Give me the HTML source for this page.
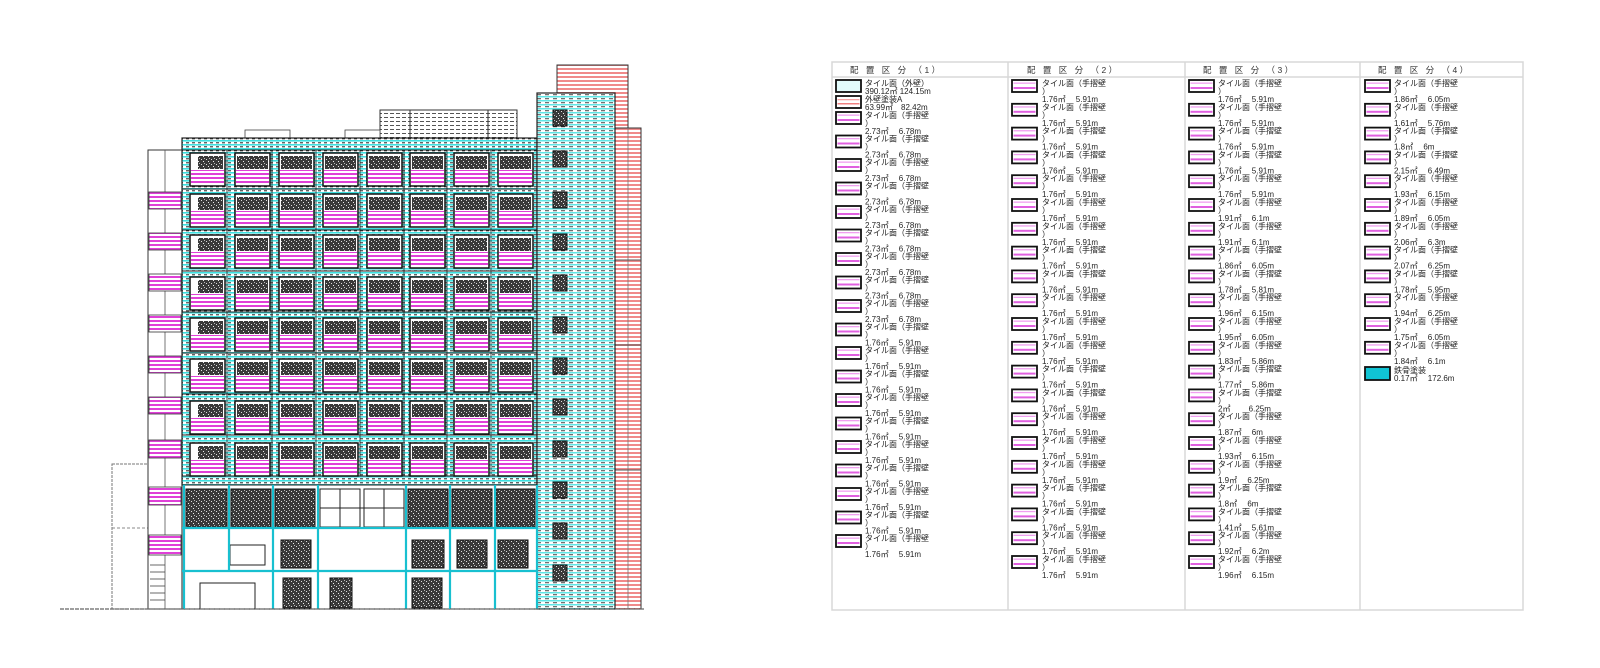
<!DOCTYPE html>
<html><head><meta charset="utf-8">
<style>
html,body{margin:0;padding:0;background:#fff;}
svg{display:block;}
text{font-family:"Liberation Sans","Noto Sans CJK JP",sans-serif;font-size:8px;fill:#222;}
.h{font-size:8.5px;letter-spacing:2.5px;fill:#333;}
</style></head>
<body>
<svg width="1600" height="668" viewBox="0 0 1600 668" xmlns="http://www.w3.org/2000/svg" xmlns:xlink="http://www.w3.org/1999/xlink">
<defs>
<pattern id="cy" width="6" height="4" patternUnits="userSpaceOnUse">
<rect width="6" height="4" fill="#fff"/><rect width="6" height="1.6" fill="#3ee0e0"/><rect y="2.3" width="3" height="1" fill="#222"/>
</pattern>
<pattern id="cy2" width="8" height="4" patternUnits="userSpaceOnUse">
<rect width="8" height="4" fill="#fff"/><rect width="8" height="1.5" fill="#5fe6e6"/><rect x="1" y="2.3" width="4" height="0.9" fill="#333"/>
</pattern>
<pattern id="pk" width="4" height="4" patternUnits="userSpaceOnUse">
<rect width="4" height="4" fill="#fff"/><rect width="4" height="2" fill="#e040d8"/>
</pattern>
<pattern id="rd" width="4" height="4" patternUnits="userSpaceOnUse">
<rect width="4" height="4" fill="#fff"/><rect width="4" height="2" fill="#f08a8a"/>
</pattern>
<pattern id="dk" width="5" height="5" patternUnits="userSpaceOnUse">
<rect width="5" height="5" fill="#3a3a3a"/><rect x="1" y="1" width="1" height="1" fill="#ddd"/><rect x="3" y="3" width="1" height="1" fill="#eee"/><rect x="4" y="0" width="1" height="1" fill="#bbb"/>
</pattern>
<pattern id="gl" width="6" height="4" patternUnits="userSpaceOnUse">
<rect width="6" height="4" fill="#fff"/><rect y="1" width="4" height="1" fill="#555"/>
</pattern>
<g id="row">
<g stroke="#111" stroke-width="1.5" fill="#fff">
<rect x="190" y="0" width="35" height="33"/><rect x="235" y="0" width="35" height="33"/><rect x="279" y="0" width="35" height="33"/><rect x="323" y="0" width="35" height="33"/><rect x="367" y="0" width="35" height="33"/><rect x="410" y="0" width="35" height="33"/><rect x="454" y="0" width="35" height="33"/><rect x="498" y="0" width="35" height="33"/>
</g>
<g fill="url(#dk)">
<rect x="198" y="3" width="25" height="13"/><rect x="237" y="3" width="31" height="13"/><rect x="281" y="3" width="31" height="13"/><rect x="325" y="3" width="31" height="13"/><rect x="369" y="3" width="31" height="13"/><rect x="412" y="3" width="31" height="13"/><rect x="456" y="3" width="31" height="13"/><rect x="500" y="3" width="31" height="13"/>
</g>
<g fill="url(#pk)">
<rect x="191" y="17" width="33" height="15"/><rect x="236" y="17" width="33" height="15"/><rect x="280" y="17" width="33" height="15"/><rect x="324" y="17" width="33" height="15"/><rect x="368" y="17" width="33" height="15"/><rect x="411" y="17" width="33" height="15"/><rect x="455" y="17" width="33" height="15"/><rect x="499" y="17" width="33" height="15"/>
</g>
</g>
<g id="sw"><rect x="0" y="0" width="25" height="12" fill="#fff" stroke="#111" stroke-width="1.8"/><rect x="1.5" y="2.5" width="22" height="1.3" fill="#f0a0f0"/><rect x="1.5" y="7" width="22" height="2" fill="#e060e0"/></g>
</defs>

<!-- ===== Building ===== -->
<rect x="557" y="65" width="71" height="63" fill="url(#rd)" stroke="#333"/>
<rect x="615" y="128" width="26" height="481" fill="url(#rd)" stroke="#333"/>
<line x1="628" y1="128" x2="628" y2="609" stroke="#777" stroke-width="0.8"/>
<g stroke="#555"><line x1="615" y1="260" x2="641" y2="260"/><line x1="615" y1="345" x2="641" y2="345"/><line x1="615" y1="470" x2="641" y2="470"/></g>

<rect x="112" y="464" width="36" height="145" fill="none" stroke="#777" stroke-dasharray="3,1"/>
<line x1="112" y1="528" x2="148" y2="528" stroke="#888" stroke-dasharray="3,2"/>

<rect x="148" y="150" width="34" height="459" fill="#fff" stroke="#333"/>
<line x1="165" y1="150" x2="165" y2="609" stroke="#555" stroke-width="0.8"/>
<g fill="url(#pk)" stroke="#333" stroke-width="0.8">
<rect x="149" y="192" width="32" height="17"/><rect x="149" y="233" width="32" height="17"/><rect x="149" y="274" width="32" height="17"/><rect x="149" y="315" width="32" height="17"/><rect x="149" y="356" width="32" height="17"/><rect x="149" y="397" width="32" height="17"/><rect x="149" y="440" width="32" height="18"/><rect x="149" y="487" width="32" height="18"/><rect x="149" y="535" width="32" height="20"/>
</g>
<g stroke="#444" stroke-width="0.8"><line x1="150" y1="565" x2="165" y2="565"/><line x1="150" y1="572" x2="165" y2="572"/><line x1="150" y1="579" x2="165" y2="579"/><line x1="150" y1="586" x2="165" y2="586"/><line x1="150" y1="593" x2="165" y2="593"/><line x1="150" y1="600" x2="165" y2="600"/></g>

<rect x="380" y="110" width="137" height="28" fill="url(#gl)" stroke="#333"/>
<line x1="410" y1="110" x2="410" y2="138" stroke="#333"/><line x1="488" y1="110" x2="488" y2="138" stroke="#333"/>
<rect x="245" y="130" width="45" height="8" fill="#fff" stroke="#444" stroke-width="0.8"/>
<rect x="345" y="130" width="35" height="8" fill="#fff" stroke="#444" stroke-width="0.8"/>

<rect x="182" y="138" width="355" height="347" fill="url(#cy)" stroke="#222" stroke-width="1.2"/>
<rect x="537" y="93" width="78" height="516" fill="url(#cy2)" stroke="#222" stroke-width="1.2"/>

<g stroke="#222">
<line x1="182" y1="150" x2="537" y2="150"/><line x1="182" y1="189" x2="537" y2="189"/><line x1="182" y1="230" x2="537" y2="230"/><line x1="182" y1="271" x2="537" y2="271"/><line x1="182" y1="312" x2="537" y2="312"/><line x1="182" y1="353" x2="537" y2="353"/><line x1="182" y1="394" x2="537" y2="394"/><line x1="182" y1="435" x2="537" y2="435"/><line x1="182" y1="476" x2="537" y2="476"/>
</g>
<g stroke="#222" stroke-width="0.8">
<line x1="227" y1="150" x2="227" y2="476"/><line x1="272" y1="150" x2="272" y2="476"/><line x1="316" y1="150" x2="316" y2="476"/><line x1="360" y1="150" x2="360" y2="476"/><line x1="404" y1="150" x2="404" y2="476"/><line x1="447" y1="150" x2="447" y2="476"/><line x1="491" y1="150" x2="491" y2="476"/>
</g>

<use href="#row" xlink:href="#row" x="0" y="153"/><use href="#row" xlink:href="#row" x="0" y="194"/><use href="#row" xlink:href="#row" x="0" y="235"/><use href="#row" xlink:href="#row" x="0" y="277"/><use href="#row" xlink:href="#row" x="0" y="318"/><use href="#row" xlink:href="#row" x="0" y="359"/><use href="#row" xlink:href="#row" x="0" y="401"/><use href="#row" xlink:href="#row" x="0" y="443"/>

<g fill="url(#dk)" stroke="#111" stroke-width="1">
<rect x="553" y="110" width="14" height="16"/><rect x="553" y="151" width="14" height="16"/><rect x="553" y="192" width="14" height="16"/><rect x="553" y="234" width="14" height="16"/><rect x="553" y="275" width="14" height="16"/><rect x="553" y="317" width="14" height="16"/><rect x="553" y="358" width="14" height="16"/><rect x="553" y="399" width="14" height="16"/><rect x="553" y="441" width="14" height="16"/><rect x="553" y="482" width="14" height="16"/><rect x="553" y="523" width="14" height="16"/><rect x="553" y="565" width="14" height="16"/>
</g>

<!-- ground floor -->
<rect x="182" y="485" width="355" height="124" fill="#fff" stroke="#222"/>
<g fill="url(#dk)" stroke="#111">
<rect x="186" y="489" width="41" height="38"/><rect x="231" y="489" width="40" height="38"/><rect x="275" y="489" width="40" height="38"/><rect x="408" y="489" width="40" height="38"/><rect x="452" y="489" width="40" height="38"/><rect x="496" y="489" width="39" height="38"/>
<rect x="281" y="540" width="30" height="28"/><rect x="412" y="540" width="32" height="28"/><rect x="457" y="540" width="30" height="28"/><rect x="498" y="540" width="30" height="28"/>
<rect x="283" y="578" width="28" height="30"/><rect x="330" y="578" width="22" height="30"/><rect x="412" y="578" width="30" height="30"/>
</g>
<g stroke="#222" stroke-width="1" fill="none">
<rect x="320" y="489" width="40" height="38"/><rect x="364" y="489" width="40" height="38"/>
<line x1="340" y1="489" x2="340" y2="527"/><line x1="384" y1="489" x2="384" y2="527"/>
<line x1="320" y1="508" x2="404" y2="508"/>
<rect x="200" y="583" width="55" height="26"/>
<rect x="230" y="545" width="35" height="20"/>
</g>
<g stroke="#18c0d0" stroke-width="2.2">
<line x1="182" y1="528" x2="537" y2="528"/><line x1="182" y1="571" x2="537" y2="571"/>
<line x1="184" y1="485" x2="184" y2="609"/><line x1="229" y1="485" x2="229" y2="571"/><line x1="273" y1="485" x2="273" y2="609"/><line x1="318" y1="485" x2="318" y2="609"/><line x1="406" y1="485" x2="406" y2="609"/><line x1="450" y1="485" x2="450" y2="609"/><line x1="495" y1="485" x2="495" y2="609"/><line x1="537" y1="485" x2="537" y2="609"/>
</g>
<line x1="60" y1="609" x2="645" y2="609" stroke="#666" stroke-width="1.2" stroke-dasharray="4,1"/>

<!-- ===== Legend ===== -->
<rect x="832" y="62" width="691" height="548" fill="none" stroke="#d8d8d8" stroke-width="1.5"/>
<line x1="832" y1="77" x2="1523" y2="77" stroke="#d8d8d8" stroke-width="1.5"/>
<line x1="1008" y1="62" x2="1008" y2="610" stroke="#d8d8d8" stroke-width="1.5"/>
<line x1="1185" y1="62" x2="1185" y2="610" stroke="#d8d8d8" stroke-width="1.5"/>
<line x1="1360" y1="62" x2="1360" y2="610" stroke="#d8d8d8" stroke-width="1.5"/>
<text class="h" x="850" y="73">配 置 区 分 （1）</text>
<text class="h" x="1027" y="73">配 置 区 分 （2）</text>
<text class="h" x="1203" y="73">配 置 区 分 （3）</text>
<text class="h" x="1378" y="73">配 置 区 分 （4）</text>

<rect x="836" y="80" width="25" height="12" fill="#e2fbfb" stroke="#111" stroke-width="1.8"/>
<text x="865" y="86">タイル面（外壁）</text><text x="865" y="94">390.12㎡ 124.15m</text>
<g><rect x="836" y="96" width="25" height="12" fill="#fff" stroke="#111" stroke-width="1.8"/><rect x="837.5" y="99" width="22" height="1.3" fill="#f4a0a0"/><rect x="837.5" y="103" width="22" height="1.5" fill="#f08080"/></g>
<text x="865" y="102">外壁塗装A</text><text x="865" y="110">63.99㎡　82.42m</text>

<g>
<use href="#sw" xlink:href="#sw" x="836" y="112"/><text x="865" y="118">タイル面（手摺壁</text><text x="865" y="126">）</text><text x="865" y="134">2.73㎡　 6.78m</text>
<use href="#sw" xlink:href="#sw" x="836" y="135.5"/><text x="865" y="141.5">タイル面（手摺壁</text><text x="865" y="149.5">）</text><text x="865" y="157.5">2.73㎡　 6.78m</text>
<use href="#sw" xlink:href="#sw" x="836" y="159"/><text x="865" y="165">タイル面（手摺壁</text><text x="865" y="173">）</text><text x="865" y="181">2.73㎡　 6.78m</text>
<use href="#sw" xlink:href="#sw" x="836" y="182.5"/><text x="865" y="188.5">タイル面（手摺壁</text><text x="865" y="196.5">）</text><text x="865" y="204.5">2.73㎡　 6.78m</text>
<use href="#sw" xlink:href="#sw" x="836" y="206"/><text x="865" y="212">タイル面（手摺壁</text><text x="865" y="220">）</text><text x="865" y="228">2.73㎡　 6.78m</text>
<use href="#sw" xlink:href="#sw" x="836" y="229.5"/><text x="865" y="235.5">タイル面（手摺壁</text><text x="865" y="243.5">）</text><text x="865" y="251.5">2.73㎡　 6.78m</text>
<use href="#sw" xlink:href="#sw" x="836" y="253"/><text x="865" y="259">タイル面（手摺壁</text><text x="865" y="267">）</text><text x="865" y="275">2.73㎡　 6.78m</text>
<use href="#sw" xlink:href="#sw" x="836" y="276.5"/><text x="865" y="282.5">タイル面（手摺壁</text><text x="865" y="290.5">）</text><text x="865" y="298.5">2.73㎡　 6.78m</text>
<use href="#sw" xlink:href="#sw" x="836" y="300"/><text x="865" y="306">タイル面（手摺壁</text><text x="865" y="314">）</text><text x="865" y="322">2.73㎡　 6.78m</text>
<use href="#sw" xlink:href="#sw" x="836" y="323.5"/><text x="865" y="329.5">タイル面（手摺壁</text><text x="865" y="337.5">）</text><text x="865" y="345.5">1.76㎡　 5.91m</text>
<use href="#sw" xlink:href="#sw" x="836" y="347"/><text x="865" y="353">タイル面（手摺壁</text><text x="865" y="361">）</text><text x="865" y="369">1.76㎡　 5.91m</text>
<use href="#sw" xlink:href="#sw" x="836" y="370.5"/><text x="865" y="376.5">タイル面（手摺壁</text><text x="865" y="384.5">）</text><text x="865" y="392.5">1.76㎡　 5.91m</text>
<use href="#sw" xlink:href="#sw" x="836" y="394"/><text x="865" y="400">タイル面（手摺壁</text><text x="865" y="408">）</text><text x="865" y="416">1.76㎡　 5.91m</text>
<use href="#sw" xlink:href="#sw" x="836" y="417.5"/><text x="865" y="423.5">タイル面（手摺壁</text><text x="865" y="431.5">）</text><text x="865" y="439.5">1.76㎡　 5.91m</text>
<use href="#sw" xlink:href="#sw" x="836" y="441"/><text x="865" y="447">タイル面（手摺壁</text><text x="865" y="455">）</text><text x="865" y="463">1.76㎡　 5.91m</text>
<use href="#sw" xlink:href="#sw" x="836" y="464.5"/><text x="865" y="470.5">タイル面（手摺壁</text><text x="865" y="478.5">）</text><text x="865" y="486.5">1.76㎡　 5.91m</text>
<use href="#sw" xlink:href="#sw" x="836" y="488"/><text x="865" y="494">タイル面（手摺壁</text><text x="865" y="502">）</text><text x="865" y="510">1.76㎡　 5.91m</text>
<use href="#sw" xlink:href="#sw" x="836" y="511.5"/><text x="865" y="517.5">タイル面（手摺壁</text><text x="865" y="525.5">）</text><text x="865" y="533.5">1.76㎡　 5.91m</text>
<use href="#sw" xlink:href="#sw" x="836" y="535"/><text x="865" y="541">タイル面（手摺壁</text><text x="865" y="549">）</text><text x="865" y="557">1.76㎡　 5.91m</text>
</g>

<g>
<use href="#sw" xlink:href="#sw" x="1012" y="80"/><text x="1042" y="86">タイル面（手摺壁</text><text x="1042" y="94">）</text><text x="1042" y="102">1.76㎡　 5.91m</text>
<use href="#sw" xlink:href="#sw" x="1012" y="103.8"/><text x="1042" y="109.8">タイル面（手摺壁</text><text x="1042" y="117.8">）</text><text x="1042" y="125.8">1.76㎡　 5.91m</text>
<use href="#sw" xlink:href="#sw" x="1012" y="127.6"/><text x="1042" y="133.6">タイル面（手摺壁</text><text x="1042" y="141.6">）</text><text x="1042" y="149.6">1.76㎡　 5.91m</text>
<use href="#sw" xlink:href="#sw" x="1012" y="151.4"/><text x="1042" y="157.4">タイル面（手摺壁</text><text x="1042" y="165.4">）</text><text x="1042" y="173.4">1.76㎡　 5.91m</text>
<use href="#sw" xlink:href="#sw" x="1012" y="175.2"/><text x="1042" y="181.2">タイル面（手摺壁</text><text x="1042" y="189.2">）</text><text x="1042" y="197.2">1.76㎡　 5.91m</text>
<use href="#sw" xlink:href="#sw" x="1012" y="199"/><text x="1042" y="205">タイル面（手摺壁</text><text x="1042" y="213">）</text><text x="1042" y="221">1.76㎡　 5.91m</text>
<use href="#sw" xlink:href="#sw" x="1012" y="222.8"/><text x="1042" y="228.8">タイル面（手摺壁</text><text x="1042" y="236.8">）</text><text x="1042" y="244.8">1.76㎡　 5.91m</text>
<use href="#sw" xlink:href="#sw" x="1012" y="246.6"/><text x="1042" y="252.6">タイル面（手摺壁</text><text x="1042" y="260.6">）</text><text x="1042" y="268.6">1.76㎡　 5.91m</text>
<use href="#sw" xlink:href="#sw" x="1012" y="270.4"/><text x="1042" y="276.4">タイル面（手摺壁</text><text x="1042" y="284.4">）</text><text x="1042" y="292.4">1.76㎡　 5.91m</text>
<use href="#sw" xlink:href="#sw" x="1012" y="294.2"/><text x="1042" y="300.2">タイル面（手摺壁</text><text x="1042" y="308.2">）</text><text x="1042" y="316.2">1.76㎡　 5.91m</text>
<use href="#sw" xlink:href="#sw" x="1012" y="318"/><text x="1042" y="324">タイル面（手摺壁</text><text x="1042" y="332">）</text><text x="1042" y="340">1.76㎡　 5.91m</text>
<use href="#sw" xlink:href="#sw" x="1012" y="341.8"/><text x="1042" y="347.8">タイル面（手摺壁</text><text x="1042" y="355.8">）</text><text x="1042" y="363.8">1.76㎡　 5.91m</text>
<use href="#sw" xlink:href="#sw" x="1012" y="365.6"/><text x="1042" y="371.6">タイル面（手摺壁</text><text x="1042" y="379.6">）</text><text x="1042" y="387.6">1.76㎡　 5.91m</text>
<use href="#sw" xlink:href="#sw" x="1012" y="389.4"/><text x="1042" y="395.4">タイル面（手摺壁</text><text x="1042" y="403.4">）</text><text x="1042" y="411.4">1.76㎡　 5.91m</text>
<use href="#sw" xlink:href="#sw" x="1012" y="413.2"/><text x="1042" y="419.2">タイル面（手摺壁</text><text x="1042" y="427.2">）</text><text x="1042" y="435.2">1.76㎡　 5.91m</text>
<use href="#sw" xlink:href="#sw" x="1012" y="437"/><text x="1042" y="443">タイル面（手摺壁</text><text x="1042" y="451">）</text><text x="1042" y="459">1.76㎡　 5.91m</text>
<use href="#sw" xlink:href="#sw" x="1012" y="460.8"/><text x="1042" y="466.8">タイル面（手摺壁</text><text x="1042" y="474.8">）</text><text x="1042" y="482.8">1.76㎡　 5.91m</text>
<use href="#sw" xlink:href="#sw" x="1012" y="484.6"/><text x="1042" y="490.6">タイル面（手摺壁</text><text x="1042" y="498.6">）</text><text x="1042" y="506.6">1.76㎡　 5.91m</text>
<use href="#sw" xlink:href="#sw" x="1012" y="508.4"/><text x="1042" y="514.4">タイル面（手摺壁</text><text x="1042" y="522.4">）</text><text x="1042" y="530.4">1.76㎡　 5.91m</text>
<use href="#sw" xlink:href="#sw" x="1012" y="532.2"/><text x="1042" y="538.2">タイル面（手摺壁</text><text x="1042" y="546.2">）</text><text x="1042" y="554.2">1.76㎡　 5.91m</text>
<use href="#sw" xlink:href="#sw" x="1012" y="556"/><text x="1042" y="562">タイル面（手摺壁</text><text x="1042" y="570">）</text><text x="1042" y="578">1.76㎡　 5.91m</text>
</g>

<g>
<use href="#sw" xlink:href="#sw" x="1189" y="80"/><text x="1218" y="86">タイル面（手摺壁</text><text x="1218" y="94">）</text><text x="1218" y="102">1.76㎡　 5.91m</text>
<use href="#sw" xlink:href="#sw" x="1189" y="103.8"/><text x="1218" y="109.8">タイル面（手摺壁</text><text x="1218" y="117.8">）</text><text x="1218" y="125.8">1.76㎡　 5.91m</text>
<use href="#sw" xlink:href="#sw" x="1189" y="127.6"/><text x="1218" y="133.6">タイル面（手摺壁</text><text x="1218" y="141.6">）</text><text x="1218" y="149.6">1.76㎡　 5.91m</text>
<use href="#sw" xlink:href="#sw" x="1189" y="151.4"/><text x="1218" y="157.4">タイル面（手摺壁</text><text x="1218" y="165.4">）</text><text x="1218" y="173.4">1.76㎡　 5.91m</text>
<use href="#sw" xlink:href="#sw" x="1189" y="175.2"/><text x="1218" y="181.2">タイル面（手摺壁</text><text x="1218" y="189.2">）</text><text x="1218" y="197.2">1.76㎡　 5.91m</text>
<use href="#sw" xlink:href="#sw" x="1189" y="199"/><text x="1218" y="205">タイル面（手摺壁</text><text x="1218" y="213">）</text><text x="1218" y="221">1.91㎡　 6.1m</text>
<use href="#sw" xlink:href="#sw" x="1189" y="222.8"/><text x="1218" y="228.8">タイル面（手摺壁</text><text x="1218" y="236.8">）</text><text x="1218" y="244.8">1.91㎡　 6.1m</text>
<use href="#sw" xlink:href="#sw" x="1189" y="246.6"/><text x="1218" y="252.6">タイル面（手摺壁</text><text x="1218" y="260.6">）</text><text x="1218" y="268.6">1.86㎡　 6.05m</text>
<use href="#sw" xlink:href="#sw" x="1189" y="270.4"/><text x="1218" y="276.4">タイル面（手摺壁</text><text x="1218" y="284.4">）</text><text x="1218" y="292.4">1.78㎡　 5.81m</text>
<use href="#sw" xlink:href="#sw" x="1189" y="294.2"/><text x="1218" y="300.2">タイル面（手摺壁</text><text x="1218" y="308.2">）</text><text x="1218" y="316.2">1.96㎡　 6.15m</text>
<use href="#sw" xlink:href="#sw" x="1189" y="318"/><text x="1218" y="324">タイル面（手摺壁</text><text x="1218" y="332">）</text><text x="1218" y="340">1.95㎡　 6.05m</text>
<use href="#sw" xlink:href="#sw" x="1189" y="341.8"/><text x="1218" y="347.8">タイル面（手摺壁</text><text x="1218" y="355.8">）</text><text x="1218" y="363.8">1.83㎡　 5.86m</text>
<use href="#sw" xlink:href="#sw" x="1189" y="365.6"/><text x="1218" y="371.6">タイル面（手摺壁</text><text x="1218" y="379.6">）</text><text x="1218" y="387.6">1.77㎡　 5.86m</text>
<use href="#sw" xlink:href="#sw" x="1189" y="389.4"/><text x="1218" y="395.4">タイル面（手摺壁</text><text x="1218" y="403.4">）</text><text x="1218" y="411.4">2㎡　　 6.25m</text>
<use href="#sw" xlink:href="#sw" x="1189" y="413.2"/><text x="1218" y="419.2">タイル面（手摺壁</text><text x="1218" y="427.2">）</text><text x="1218" y="435.2">1.87㎡　 6m</text>
<use href="#sw" xlink:href="#sw" x="1189" y="437"/><text x="1218" y="443">タイル面（手摺壁</text><text x="1218" y="451">）</text><text x="1218" y="459">1.93㎡　 6.15m</text>
<use href="#sw" xlink:href="#sw" x="1189" y="460.8"/><text x="1218" y="466.8">タイル面（手摺壁</text><text x="1218" y="474.8">）</text><text x="1218" y="482.8">1.9㎡　 6.25m</text>
<use href="#sw" xlink:href="#sw" x="1189" y="484.6"/><text x="1218" y="490.6">タイル面（手摺壁</text><text x="1218" y="498.6">）</text><text x="1218" y="506.6">1.8㎡　 6m</text>
<use href="#sw" xlink:href="#sw" x="1189" y="508.4"/><text x="1218" y="514.4">タイル面（手摺壁</text><text x="1218" y="522.4">）</text><text x="1218" y="530.4">1.41㎡　 5.61m</text>
<use href="#sw" xlink:href="#sw" x="1189" y="532.2"/><text x="1218" y="538.2">タイル面（手摺壁</text><text x="1218" y="546.2">）</text><text x="1218" y="554.2">1.92㎡　 6.2m</text>
<use href="#sw" xlink:href="#sw" x="1189" y="556"/><text x="1218" y="562">タイル面（手摺壁</text><text x="1218" y="570">）</text><text x="1218" y="578">1.96㎡　 6.15m</text>
</g>

<g>
<use href="#sw" xlink:href="#sw" x="1365" y="80"/><text x="1394" y="86">タイル面（手摺壁</text><text x="1394" y="94">）</text><text x="1394" y="102">1.86㎡　 6.05m</text>
<use href="#sw" xlink:href="#sw" x="1365" y="103.8"/><text x="1394" y="109.8">タイル面（手摺壁</text><text x="1394" y="117.8">）</text><text x="1394" y="125.8">1.61㎡　 5.76m</text>
<use href="#sw" xlink:href="#sw" x="1365" y="127.6"/><text x="1394" y="133.6">タイル面（手摺壁</text><text x="1394" y="141.6">）</text><text x="1394" y="149.6">1.8㎡　 6m</text>
<use href="#sw" xlink:href="#sw" x="1365" y="151.4"/><text x="1394" y="157.4">タイル面（手摺壁</text><text x="1394" y="165.4">）</text><text x="1394" y="173.4">2.15㎡　 6.49m</text>
<use href="#sw" xlink:href="#sw" x="1365" y="175.2"/><text x="1394" y="181.2">タイル面（手摺壁</text><text x="1394" y="189.2">）</text><text x="1394" y="197.2">1.93㎡　 6.15m</text>
<use href="#sw" xlink:href="#sw" x="1365" y="199"/><text x="1394" y="205">タイル面（手摺壁</text><text x="1394" y="213">）</text><text x="1394" y="221">1.89㎡　 6.05m</text>
<use href="#sw" xlink:href="#sw" x="1365" y="222.8"/><text x="1394" y="228.8">タイル面（手摺壁</text><text x="1394" y="236.8">）</text><text x="1394" y="244.8">2.06㎡　 6.3m</text>
<use href="#sw" xlink:href="#sw" x="1365" y="246.6"/><text x="1394" y="252.6">タイル面（手摺壁</text><text x="1394" y="260.6">）</text><text x="1394" y="268.6">2.07㎡　 6.25m</text>
<use href="#sw" xlink:href="#sw" x="1365" y="270.4"/><text x="1394" y="276.4">タイル面（手摺壁</text><text x="1394" y="284.4">）</text><text x="1394" y="292.4">1.78㎡　 5.95m</text>
<use href="#sw" xlink:href="#sw" x="1365" y="294.2"/><text x="1394" y="300.2">タイル面（手摺壁</text><text x="1394" y="308.2">）</text><text x="1394" y="316.2">1.94㎡　 6.25m</text>
<use href="#sw" xlink:href="#sw" x="1365" y="318"/><text x="1394" y="324">タイル面（手摺壁</text><text x="1394" y="332">）</text><text x="1394" y="340">1.75㎡　 6.05m</text>
<use href="#sw" xlink:href="#sw" x="1365" y="341.8"/><text x="1394" y="347.8">タイル面（手摺壁</text><text x="1394" y="355.8">）</text><text x="1394" y="363.8">1.84㎡　 6.1m</text>
<rect x="1365" y="367" width="25" height="13" fill="#10c4d4" stroke="#111" stroke-width="1.8"/>
<text x="1394" y="373">鉄骨塗装</text><text x="1394" y="381">0.17㎡　 172.6m</text>
</g>
</svg>
</body></html>
